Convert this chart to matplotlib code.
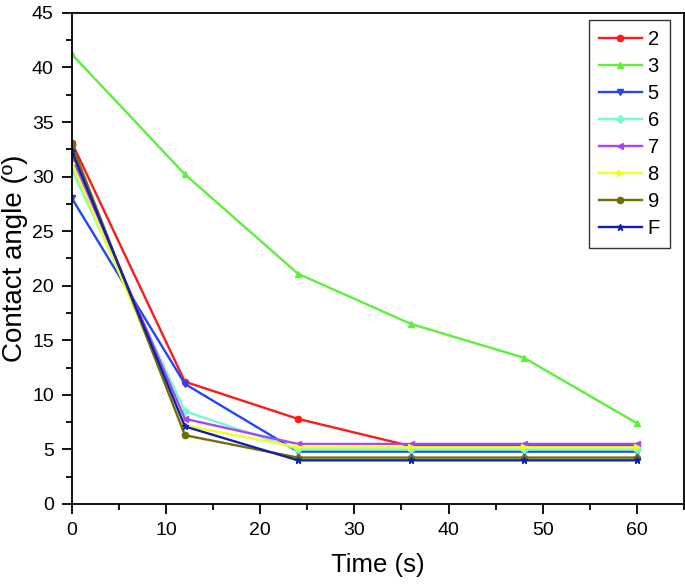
import matplotlib
matplotlib.use("Agg")
import matplotlib.pyplot as plt
from matplotlib.ticker import MultipleLocator

plt.rcParams['font.family'] = ['Liberation Sans', 'DejaVu Sans']

time = [0, 12, 24, 36, 48, 60]
labels = ['2', '3', '5', '6', '7', '8', '9', 'F']
s2 = [33.1, 11.2, 7.8, 5.3, 5.3, 5.3]
s3 = [41.2, 30.2, 21.1, 16.5, 13.4, 7.4]
s5 = [28.0, 11.0, 4.8, 4.8, 4.8, 4.8]
s6 = [30.6, 8.5, 5.0, 5.0, 5.0, 5.0]
s7 = [31.8, 7.8, 5.5, 5.5, 5.5, 5.5]
s8 = [31.2, 7.2, 5.2, 5.2, 5.2, 5.2]
s9 = [32.9, 6.3, 4.25, 4.25, 4.25, 4.25]
sF = [32.3, 7.1, 4.0, 4.0, 4.0, 4.0]
series = [s2, s3, s5, s6, s7, s8, s9, sF]
colors = ['#FF1A1A', '#5CF03C', '#1F45FF', '#70FFCC', '#A845F5', '#EEFF22', '#6E7000', '#1020B0']
markers = ['o', '^', 'v', 'D', '<', '>', 'o', '*']

fig = plt.figure(figsize=(6.85, 5.85), dpi=100)
ax = fig.add_axes([0.105, 0.1385, 0.8935, 0.8395])

for y, c, m, lab in zip(series, colors, markers, labels):
    ms = 4.5 if m != 'D' else 3.8
    ax.plot(time, y, color=c, marker=m, markersize=ms, linewidth=1.7, label=lab)

ax.set_xlim(0, 65)
ax.set_ylim(0, 45)
ax.xaxis.set_major_locator(MultipleLocator(10))
ax.xaxis.set_minor_locator(MultipleLocator(5))
ax.yaxis.set_major_locator(MultipleLocator(5))
ax.yaxis.set_minor_locator(MultipleLocator(2.5))
ax.tick_params(which='major', direction='out', length=7, width=1.3, labelsize=14,
               top=False, right=False, pad=6)
ax.tick_params(which='minor', direction='out', length=4, width=1.3, top=False, right=False)
for sp in ax.spines.values():
    sp.set_linewidth(1.3)

ax.set_xlabel('Time (s)', fontsize=18.5, labelpad=10)
ax.set_ylabel('Contact angle (º)', fontsize=20, labelpad=3)

leg = ax.legend(loc='upper right', bbox_to_anchor=(0.977, 0.986), borderaxespad=0,
                fontsize=14.5, handlelength=2.1, labelspacing=0.4, handletextpad=0.3,
                borderpad=0.5, fancybox=False, edgecolor='#333333', framealpha=1)
leg.get_frame().set_linewidth(1.0)

fig.savefig('out.png', dpi=100)
